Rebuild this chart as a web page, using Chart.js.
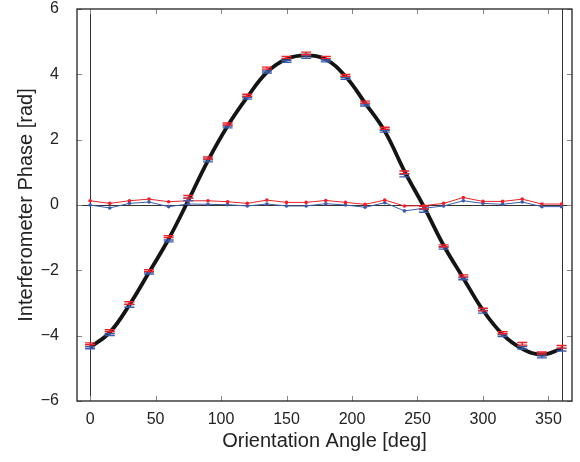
<!DOCTYPE html>
<html>
<head>
<meta charset="utf-8">
<script src="https://cdn.jsdelivr.net/npm/chart.js@4.4.1/dist/chart.umd.min.js"></script>
<style>
  html, body { margin: 0; padding: 0; background: #fff; }
  #wrap { width: 580px; height: 462px; }
</style>
</head>
<body>
<div id="wrap"><canvas id="phaseChart"></canvas></div>
<script>
// -- Data --
const angles = [0, 15, 30, 45, 60, 75, 90, 105, 120, 135, 150, 165, 180,
                195, 210, 225, 240, 255, 270, 285, 300, 315, 330, 345, 360];

// black fitted curve
const fitPhase = [-4.36, -3.90, -3.06, -2.06, -1.04, 0.14, 1.36, 2.42, 3.30, 4.06, 4.47, 4.58, 4.46,
                  3.94, 3.12, 2.26, 1.04, -0.06, -1.24, -2.24, -3.22, -3.96, -4.40, -4.58, -4.40];

// phase measurements with error bars
const redPhase  = [-4.25, -3.85, -3.00, -2.01, -0.97, 0.25, 1.44, 2.48, 3.36, 4.19, 4.52, 4.64, 4.52,
                   3.97, 3.15, 2.35, 1.00, -0.08, -1.25, -2.17, -3.20, -3.91, -4.25, -4.53, -4.34];
const bluePhase = [-4.37, -3.97, -3.09, -2.08, -1.10, 0.17, 1.35, 2.39, 3.27, 4.07, 4.40, 4.53, 4.41,
                   3.88, 3.06, 2.26, 0.90, -0.18, -1.32, -2.26, -3.27, -4.00, -4.37, -4.65, -4.43];
const redErr  = [0.03, 0.03, 0.04, 0.03, 0.03, 0.04, 0.03, 0.03, 0.03, 0.03, 0.03, 0.04, 0.03,
                 0.03, 0.03, 0.03, 0.04, 0.04, 0.03, 0.03, 0.04, 0.03, 0.04, 0.03, 0.04];
const blueErr = [0.03, 0.03, 0.04, 0.03, 0.03, 0.04, 0.03, 0.03, 0.03, 0.03, 0.03, 0.04, 0.03,
                 0.03, 0.03, 0.03, 0.04, 0.04, 0.03, 0.03, 0.04, 0.03, 0.04, 0.03, 0.04];

// near-zero reference traces
const redOffset  = [0.13, 0.05, 0.13, 0.18, 0.10, 0.13, 0.13, 0.10, 0.05, 0.15, 0.08, 0.08, 0.14,
                    0.08, 0.02, 0.15, -0.03, -0.02, 0.05, 0.23, 0.11, 0.11, 0.18, 0.03, 0.03];
const blueOffset = [0.00, -0.09, 0.05, 0.09, -0.05, 0.03, 0.02, 0.01, -0.03, 0.03, -0.03, -0.03, 0.04,
                    0.00, -0.07, 0.07, -0.18, -0.10, -0.03, 0.13, 0.05, 0.02, 0.09, -0.05, -0.05];

const xTicks = [0, 50, 100, 150, 200, 250, 300, 350];
const yTicks = [-6, -4, -2, 0, 2, 4, 6];
const refX = [0, 360];
const refY = [0];

const RED = '#e8232d';
const BLUE = '#3c5caa';

// -- Helpers --
const toPoints = (ys) => angles.map((a, i) => ({ x: a, y: ys[i] }));
const fmt = (v) => (v < 0 ? '\u2212' + Math.abs(v) : String(v));

// reference lines, error bars, frame and inward ticks
const framePlugin = {
    id: 'frame',
    beforeDatasetsDraw(chart) {
        const { ctx, chartArea: a, scales: { x, y } } = chart;
        ctx.save();
        ctx.strokeStyle = '#333';
        ctx.lineWidth = 1;
        ctx.beginPath();
        for (const v of refX) {
            const px = Math.round(x.getPixelForValue(v)) + 0.5;
            ctx.moveTo(px, a.top);
            ctx.lineTo(px, a.bottom);
        }
        for (const v of refY) {
            const py = Math.round(y.getPixelForValue(v)) + 0.5;
            ctx.moveTo(a.left, py);
            ctx.lineTo(a.right, py);
        }
        ctx.stroke();
        ctx.restore();
    },
    afterDatasetsDraw(chart) {
        const { ctx, chartArea: a, scales: { x, y } } = chart;
        ctx.save();

        const drawBars = (vals, errs, color) => {
            ctx.strokeStyle = color;
            ctx.lineWidth = 1.4;
            ctx.beginPath();
            angles.forEach((ang, i) => {
                const px = x.getPixelForValue(ang);
                const y1 = y.getPixelForValue(vals[i] + errs[i]);
                const y2 = y.getPixelForValue(vals[i] - errs[i]);
                ctx.moveTo(px, y1); ctx.lineTo(px, y2);
                ctx.moveTo(px - 5, y1); ctx.lineTo(px + 5, y1);
                ctx.moveTo(px - 5, y2); ctx.lineTo(px + 5, y2);
            });
            ctx.stroke();
        };
        drawBars(bluePhase, blueErr, BLUE);
        drawBars(redPhase, redErr, RED);

        // inward ticks on all four sides
        ctx.strokeStyle = '#888';
        ctx.lineWidth = 1;
        ctx.beginPath();
        for (const v of xTicks) {
            const px = Math.round(x.getPixelForValue(v)) + 0.5;
            ctx.moveTo(px, a.bottom); ctx.lineTo(px, a.bottom - 5);
            ctx.moveTo(px, a.top); ctx.lineTo(px, a.top + 5);
        }
        for (const v of yTicks) {
            const py = Math.round(y.getPixelForValue(v)) + 0.5;
            ctx.moveTo(a.left, py); ctx.lineTo(a.left + 5, py);
            ctx.moveTo(a.right, py); ctx.lineTo(a.right - 5, py);
        }
        ctx.stroke();

        // plot box
        ctx.strokeStyle = '#222';
        ctx.lineWidth = 1.3;
        ctx.strokeRect(a.left, a.top, a.right - a.left, a.bottom - a.top);
        ctx.restore();
    }
};

const tickFont = { family: '"Liberation Sans", Arial, sans-serif', size: 16 };
const titleFont = { family: '"Liberation Sans", Arial, sans-serif', size: 20 };

new Chart(document.getElementById('phaseChart'), {
    type: 'scatter',
    data: {
        datasets: [
            {
                label: 'Fit',
                data: toPoints(fitPhase),
                showLine: true,
                borderColor: '#141414',
                borderWidth: 3.8,
                pointRadius: 0,
                tension: 0.4,
                order: 5
            },
            {
                label: 'Red offset',
                data: toPoints(redOffset),
                showLine: true,
                borderColor: RED,
                backgroundColor: RED,
                borderWidth: 1,
                pointRadius: 1.8,
                pointBorderWidth: 0,
                order: 2
            },
            {
                label: 'Blue offset',
                data: toPoints(blueOffset),
                showLine: true,
                borderColor: BLUE,
                backgroundColor: BLUE,
                borderWidth: 1,
                pointRadius: 1.8,
                pointBorderWidth: 0,
                order: 3
            }
        ]
    },
    options: {
        responsive: true,
        maintainAspectRatio: false,
        animation: false,
        layout: { padding: { left: 0, top: 9, right: 8, bottom: 0 } },
        plugins: {
            legend: { display: false },
            tooltip: { enabled: false }
        },
        scales: {
            x: {
                type: 'linear',
                min: -10,
                max: 368,
                afterBuildTicks: (scale) => { scale.ticks = xTicks.map(v => ({ value: v })); },
                afterFit: (scale) => { scale.height = 61; scale.paddingLeft = 0; scale.paddingRight = 0; },
                grid: { display: false },
                border: { display: false },
                ticks: { color: '#222', font: tickFont, padding: 1, maxRotation: 0, callback: fmt },
                title: {
                    display: true,
                    text: 'Orientation Angle [deg]',
                    color: '#222',
                    font: titleFont,
                    padding: { top: 0, bottom: 9 }
                }
            },
            y: {
                type: 'linear',
                min: -6,
                max: 6,
                afterBuildTicks: (scale) => { scale.ticks = yTicks.map(v => ({ value: v })); },
                afterFit: (scale) => { scale.width = 77; scale.paddingTop = 0; scale.paddingBottom = 0; },
                grid: { display: false },
                border: { display: false },
                ticks: { color: '#222', font: tickFont, padding: 10, callback: fmt },
                title: {
                    display: true,
                    text: 'Interferometer Phase [rad]',
                    color: '#222',
                    font: titleFont,
                    padding: { top: 14, bottom: 0 }
                }
            }
        }
    },
    plugins: [framePlugin]
});
</script>
</body>
</html>
